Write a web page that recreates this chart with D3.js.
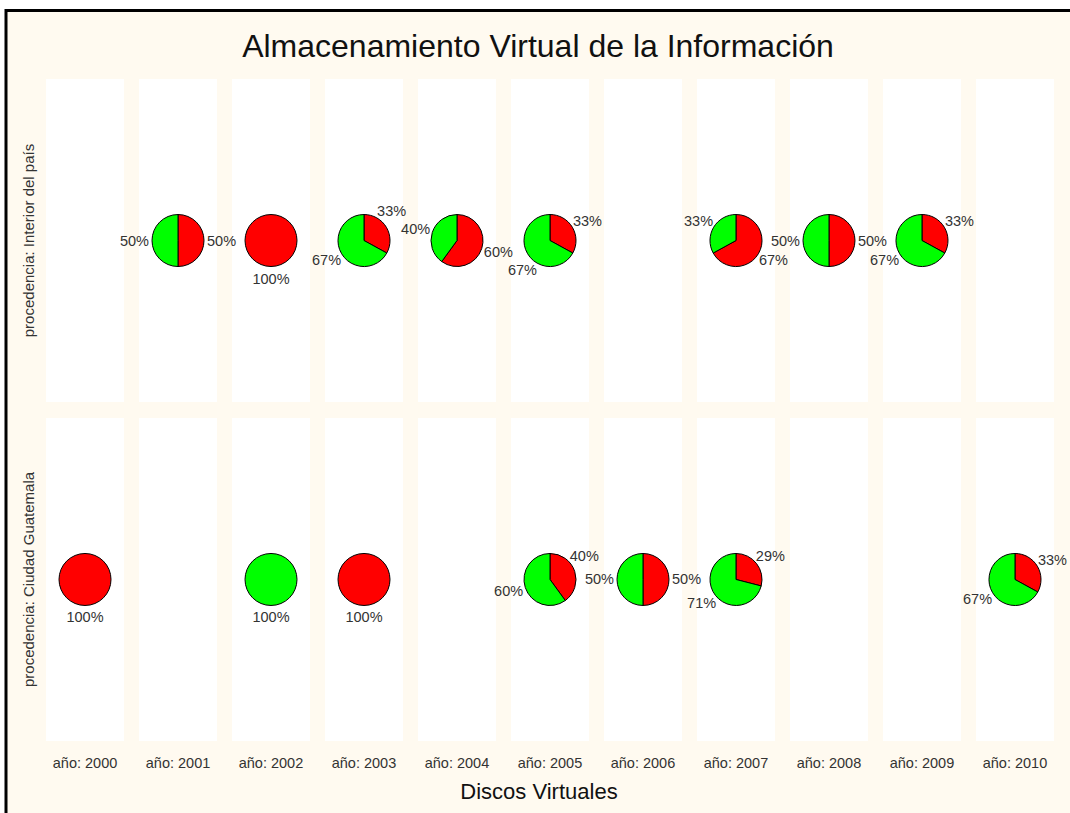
<!DOCTYPE html>
<html>
<head>
	<meta charset="utf-8" />
	<title>Almacenamiento Virtual de la Información</title>
	<script type="text/javascript" src="https://cdn.jsdelivr.net/npm/d3@7/dist/d3.min.js" charset="utf-8"></script>
	<style>
		body { margin: 0; background: #fff; }
		text { font-family: "Liberation Sans", Arial, sans-serif; }
	</style>
</head>
<body>

<div id="chart">
	<svg></svg>
</div>

<script type="text/javascript">
/* data */
var years = ["2000", "2001", "2002", "2003", "2004", "2005", "2006", "2007", "2008", "2009", "2010"];
var rows  = ["Interior del país", "Ciudad Guatemala"];

// percent per year, red slice first then green (null = no pie)
var interiorRed   = [null, 50, 100, 33, 60, 33, null, 67, 50, 33, null];
var interiorGreen = [null, 50,   0, 67, 40, 67, null, 33, 50, 67, null];
var ciudadRed     = [100, null,   0, 100, null, 40, 50, 29, null, null, 33];
var ciudadGreen   = [  0, null, 100,   0, null, 60, 50, 71, null, null, 67];

var sliceColors = ["#ff0000", "#00ff00"];

var series = [
	{ row: rows[0], red: interiorRed, green: interiorGreen },
	{ row: rows[1], red: ciudadRed,   green: ciudadGreen }
];

(function drawChart() {
	var width  = 1070,
	    height = 813;

	var svg = d3.select('#chart > svg')
			.attr("width",  width)
			.attr("height", height);

	// cream background with the black frame
	svg.append("rect")
		.attr("x", 6)
		.attr("y", 10.5)
		.attr("width", width + 20)
		.attr("height", height + 20)
		.attr("fill", "#fffaf0")
		.attr("stroke", "#000")
		.attr("stroke-width", 3);

	var x = d3.scaleBand()
		.domain(years)
		.range([46, 1054])
		.paddingInner(0.161)
		.paddingOuter(0);

	var y = d3.scaleBand()
		.domain(rows)
		.range([79, 741])
		.paddingInner(0.047)
		.paddingOuter(0);

	var radius = 26,
	    labelGap = 29;

	var pie = d3.pie().sort(null).value(function(d) { return d; });
	var arc = d3.arc().innerRadius(0).outerRadius(radius);

	// panels
	series.forEach(function(s) {
		years.forEach(function(yr) {
			svg.append("rect")
				.attr("x", x(yr))
				.attr("y", y(s.row))
				.attr("width", x.bandwidth())
				.attr("height", y.bandwidth())
				.attr("fill", "#fff");
		});
	});

	var jobs = [];

	// pies
	series.forEach(function(s) {
		years.forEach(function(yr, i) {
			if (s.red[i] === null) return;
			var cx = x(yr) + x.bandwidth() / 2,
			    cy = y(s.row) + y.bandwidth() / 2;
			var g = svg.append("g")
				.attr("transform", "translate(" + cx + "," + cy + ")");
			var slices = pie([s.red[i], s.green[i]]).filter(function(d) { return d.value > 0; });

			g.selectAll("path")
				.data(slices)
				.enter().append("path")
					.attr("d", arc)
					.attr("fill", function(d) { return sliceColors[d.index]; })
					.attr("stroke", "#000")
					.attr("stroke-width", 1);

			slices.forEach(function(d) {
				var t = g.append("text")
					.attr("text-anchor", "middle")
					.attr("dominant-baseline", "central")
					.attr("font-size", "14.5px")
					.attr("fill", "#333")
					.text(d.value + "%");
				jobs.push({ t: t, cx: cx, cy: cy, mid: (d.startAngle + d.endAngle) / 2 });
			});
		});
	});

	// labels: side ones first, then the rest turn away from collisions
	var placed = [];
	function overlaps(b) {
		return placed.some(function(p) {
			return b.x0 < p.x1 && b.x1 > p.x0 && b.y0 < p.y1 && b.y1 > p.y0;
		});
	}
	jobs.sort(function(a, b) { return Math.abs(Math.cos(a.mid)) - Math.abs(Math.cos(b.mid)); });
	jobs.forEach(function(j) {
		var w = j.t.node().getComputedTextLength(),
		    h = 14;
		var tries = [0, -20, 20, -35, 35];
		for (var k = 0; k < tries.length; k++) {
			var a  = j.mid + tries[k] * Math.PI / 180;
			var lx = Math.sin(a) * (labelGap + w / 2),
			    ly = -Math.cos(a) * (labelGap + 9);
			var box = { x0: j.cx + lx - w / 2, x1: j.cx + lx + w / 2, y0: j.cy + ly - h / 2, y1: j.cy + ly + h / 2 };
			if (!overlaps(box) || k == tries.length - 1) {
				j.t.attr("x", lx).attr("y", ly);
				placed.push(box);
				break;
			}
		}
	});

	// strip labels on the left
	rows.forEach(function(r) {
		var cy = y(r) + y.bandwidth() / 2;
		svg.append("text")
			.attr("transform", "translate(28," + cy + ") rotate(-90)")
			.attr("text-anchor", "middle")
			.attr("dominant-baseline", "central")
			.attr("font-size", "15px")
			.attr("fill", "#333")
			.text("procedencia: " + r);
	});

	// year labels
	svg.selectAll(".yr")
		.data(years)
		.enter().append("text")
			.attr("class", "yr")
			.attr("x", function(d) { return x(d) + x.bandwidth() / 2; })
			.attr("y", 763)
			.attr("text-anchor", "middle")
			.attr("dominant-baseline", "central")
			.attr("font-size", "14.5px")
			.attr("fill", "#333")
			.text(function(d) { return "año: " + d; });

	svg.append("text")
		.attr("x", 539)
		.attr("y", 791)
		.attr("text-anchor", "middle")
		.attr("dominant-baseline", "central")
		.attr("font-size", "22px")
		.attr("fill", "#111")
		.text("Discos Virtuales");

	svg.append("text")
		.attr("x", 538)
		.attr("y", 46)
		.attr("text-anchor", "middle")
		.attr("dominant-baseline", "central")
		.attr("font-size", "32px")
		.attr("fill", "#111")
		.text("Almacenamiento Virtual de la Información");
})();
</script>
</body>
</html>
